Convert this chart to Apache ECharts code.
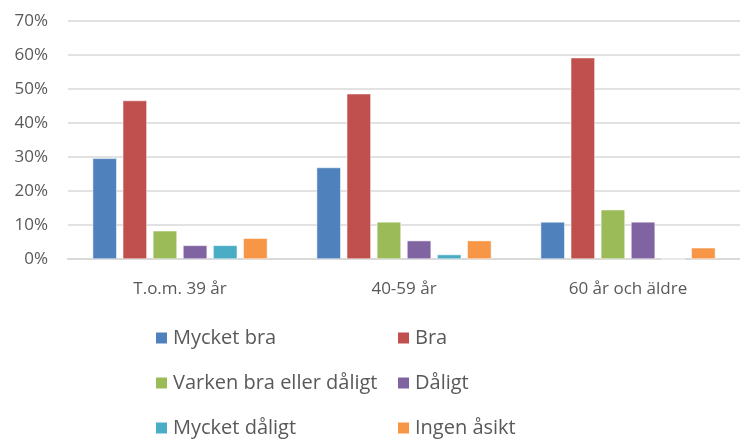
<!DOCTYPE html>
<html>
<head>
<meta charset="utf-8">
<script src="https://cdn.jsdelivr.net/npm/echarts@6/dist/echarts.min.js"></script>
<style>
  html, body { margin: 0; padding: 0; background: #fff; }
  #chart { width: 740px; height: 441px; }
</style>
</head>
<body>
<div id="chart"></div>
<script>
// age groups on the x axis
var categories = ["T.o.m. 39 år", "40-59 år", "60 år och äldre"];
var seriesNames = ["Mycket bra", "Bra", "Varken bra eller dåligt", "Dåligt", "Mycket dåligt", "Ingen åsikt"];
var colors = ["#4F81BD", "#C0504D", "#9BBB59", "#8064A2", "#4BACC6", "#F79646"];

// percent values, one array per answer
var mycketBra = [29.6, 26.9, 10.9];
var bra = [46.6, 48.6, 59.2];
var varken = [8.3, 10.9, 14.5];
var daligt = [4.0, 5.4, 10.9];
var mycketDaligt = [4.0, 1.3, 0];
var ingenAsikt = [6.1, 5.4, 3.3];

var values = [mycketBra, bra, varken, daligt, mycketDaligt, ingenAsikt];

var chart = echarts.init(document.getElementById("chart"));
var fontFam = "'Open Sans', 'Noto Sans', sans-serif";
var gray = "#595959";

var series = seriesNames.map(function (name, i) {
  return {
    name: name,
    type: "bar",
    data: values[i],
    barGap: "25%",
    barCategoryGap: "22%",
    itemStyle: { color: colors[i], borderColor: "#fff", borderWidth: 0.5 },
  };
});

// legend laid out as two columns, three rows (one legend per item)
var legendCols = [154, 396];
var legendRows = [328, 373, 418];
var legends = seriesNames.map(function (name, i) {
  return {
    data: [name],
    left: legendCols[i % 2],
    top: legendRows[Math.floor(i / 2)],
    padding: 0,
    itemWidth: 13,
    itemHeight: 13,
    icon: "rect",
    textStyle: { fontFamily: fontFam, fontSize: 20, lineHeight: 20, color: gray },
  };
});

var option = {
  animation: false,
  color: colors,
  grid: { left: 68, right: 0, top: 21, bottom: 182 },
  legend: legends,
  xAxis: {
    type: "category",
    data: categories,
    axisTick: { show: false },
    axisLine: { lineStyle: { color: "#D9D9D9", width: 2 } },
    axisLabel: { fontFamily: fontFam, fontSize: 17, color: gray, margin: 22 },
  },
  yAxis: {
    type: "value",
    min: 0,
    max: 70,
    interval: 10,
    axisLabel: { formatter: "{value}%", fontFamily: fontFam, fontSize: 17, color: gray, margin: 20 },
    splitLine: { lineStyle: { color: "#D9D9D9", width: 1.5 } },
  },
  series: series,
};

chart.setOption(option);
</script>
</body>
</html>
